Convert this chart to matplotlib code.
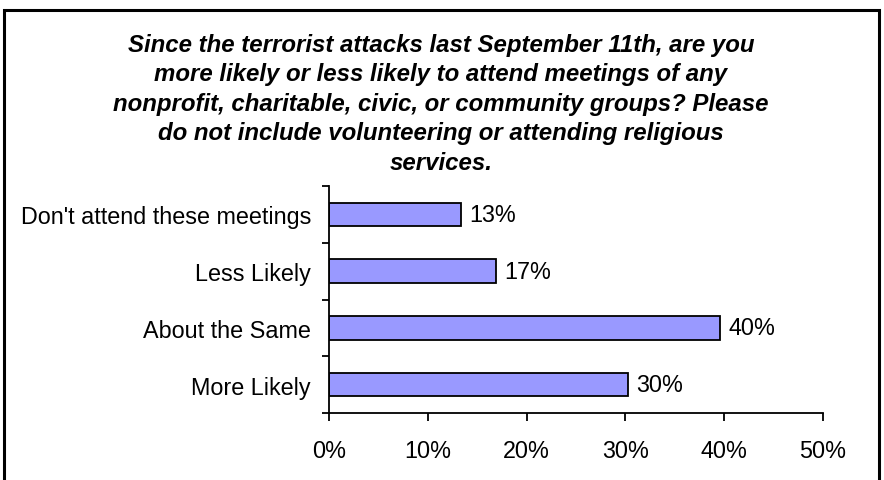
import matplotlib
matplotlib.use("Agg")
import matplotlib.pyplot as plt
from matplotlib.patches import Rectangle

plt.rcParams['font.family'] = ['Liberation Sans', 'DejaVu Sans']

# data
categories = ["More Likely", "About the Same", "Less Likely", "Don't attend these meetings"]
values = [30.3, 39.6, 16.9, 13.4]
labels = ["30%", "40%", "17%", "13%"]
xticks = [0, 10, 20, 30, 40, 50]
xtick_labels = ["0%", "10%", "20%", "30%", "40%", "50%"]

title = ("Since the terrorist attacks last September 11th, are you\n"
         "more likely or less likely to attend meetings of any\n"
         "nonprofit, charitable, civic, or community groups? Please\n"
         "do not include volunteering or attending religious\n"
         "services.")

W, H = 884, 481
fig = plt.figure(figsize=(W / 100, H / 100), dpi=100, facecolor='white')

# outer frame (bottom edge runs off the picture)
fig.patches.append(Rectangle((4 / W, -0.1), 875 / W, 1.1 - 11 / H, transform=fig.transFigure,
                             fill=False, edgecolor='black', linewidth=2.2))

ax = fig.add_axes([329 / W, 1 - 414 / H, 494 / W, 227 / H])
ypos = range(len(categories))
ax.barh(ypos, values, height=0.41, color='#9999FF', edgecolor='black', linewidth=1.3)
for y, v, lab in zip(ypos, values, labels):
    ax.text(v + 0.8, y, lab, va='center', ha='left', fontsize=16.8)

ax.set_xlim(0, 50)
ax.set_ylim(-0.5, len(categories) - 0.5)
ax.set_xticks(xticks)
ax.set_xticklabels(xtick_labels, fontsize=16.8)
ax.set_yticks(list(ypos))
ax.set_yticklabels(categories, fontsize=16.8)
ax.set_yticks([i - 0.5 for i in range(len(categories) + 1)], minor=True)
ax.tick_params(axis='y', which='major', length=0, pad=13)
ax.tick_params(axis='y', which='minor', length=5, width=1.3, direction='out')
ax.tick_params(axis='x', length=5.5, width=1.3, direction='out', pad=13)
for s in ['top', 'right']:
    ax.spines[s].set_visible(False)
for s in ['left', 'bottom']:
    ax.spines[s].set_linewidth(1.3)

fig.text(441 / W, 1 - 34 / H, title, ha='center', va='top', fontsize=17.3,
         fontweight='bold', fontstyle='italic', linespacing=1.36)

fig.savefig('out.png', dpi=100)
